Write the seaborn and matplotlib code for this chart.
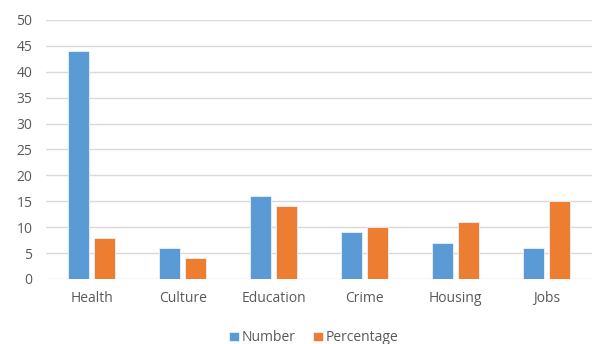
import matplotlib
matplotlib.use("Agg")
import matplotlib.pyplot as plt
import pandas as pd
import seaborn as sns

categories = ["Health", "Culture", "Education", "Crime", "Housing", "Jobs"]
number = [44, 6, 16, 9, 7, 6]
percentage = [8, 4, 14, 10, 11, 15]

df = pd.DataFrame({
    "category": categories * 2,
    "value": number + percentage,
    "series": ["Number"] * len(categories) + ["Percentage"] * len(categories),
})

sns.set_theme(style="white")
plt.rcParams["font.family"] = ["Open Sans", "DejaVu Sans"]
text_color = "#595959"

fig = plt.figure(figsize=(5.92, 3.44), dpi=100)
ax = fig.add_axes([0.078, 0.189, 0.922, 0.753])

sns.barplot(data=df, x="category", y="value", hue="series",
            palette=["#5B9BD5", "#ED7D31"], saturation=1, width=0.57, gap=0.19,
            edgecolor="#EAF2FA", linewidth=0.6, ax=ax, zorder=3)

ax.set_ylim(0, 50)
ax.set_yticks(range(0, 51, 5))
ax.grid(axis="y", color="#D9D9D9", linewidth=1, zorder=0)
ax.set_axisbelow(True)
ax.set_xlabel("")
ax.set_ylabel("")
for s in ax.spines.values():
    s.set_visible(False)
ax.tick_params(axis="both", length=0, labelsize=10, colors=text_color)
ax.tick_params(axis="x", pad=9)
ax.tick_params(axis="y", pad=10)

ax.legend(loc="upper center", bbox_to_anchor=(0.49, -0.15), ncol=2,
          frameon=False, fontsize=10, handlelength=0.72, handleheight=0.72,
          handletextpad=0.2, columnspacing=1.3, labelcolor=text_color)

fig.savefig("out.png", dpi=100)
